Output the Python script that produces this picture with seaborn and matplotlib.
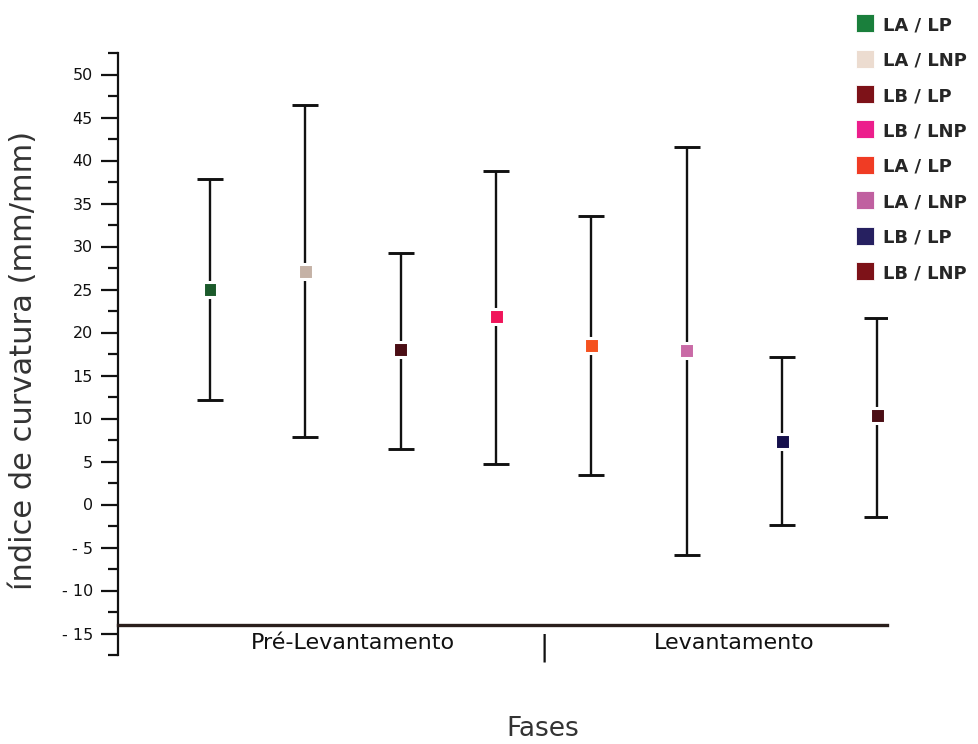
import matplotlib
matplotlib.use("Agg")
import matplotlib.pyplot as plt
import seaborn as sns
import numpy as np
import pandas as pd
from matplotlib.lines import Line2D
from matplotlib.ticker import FixedLocator, MultipleLocator

# ---- data ----
groups = ["LA / LP", "LA / LNP", "LB / LP", "LB / LNP",
          "LA / LP", "LA / LNP", "LB / LP", "LB / LNP"]
phases = ["Pré-Levantamento"] * 4 + ["Levantamento"] * 4
means = [25.0, 27.1, 18.0, 21.9, 18.5, 17.9, 7.3, 10.3]
upper = [37.8, 46.5, 29.3, 38.8, 33.5, 41.6, 17.2, 21.7]
lower = [12.2, 7.8, 6.5, 4.7, 3.4, -5.9, -2.4, -1.4]
ytick_values = [-15, -10, -5, 0, 5, 10, 15, 20, 25, 30, 35, 40, 45, 50]
ytick_labels = ["- 15", "- 10", "- 5", "0", "5", "10", "15", "20",
                "25", "30", "35", "40", "45", "50"]
phase_labels = ["Pré-Levantamento", "|", "Levantamento"]

marker_colors = ["#1b5a2b", "#c5b2a6", "#4b0e15", "#f0145a",
                 "#f5521f", "#c96aa6", "#15104c", "#4b0e15"]
legend_colors = ["#1a7f3c", "#ecdcd0", "#7d1218", "#ec1e8c",
                 "#f03c24", "#c060a0", "#262060", "#7d1218"]

df = pd.DataFrame({"pos": np.arange(len(groups)), "group_id": [str(i) for i in range(len(groups))],
                   "label": groups, "phase": phases, "mean": means,
                   "lo": lower, "hi": upper})

sns.set_theme(style="white")
plt.rcParams["font.family"] = ["DejaVu Sans"]

fig = plt.figure(figsize=(9.79, 7.44), dpi=100)
W, H = 979, 744
ax = fig.add_axes([118 / W, 1 - 655 / H, (887 - 118) / W, (655 - 53) / H])

# error bars
yerr = np.vstack([df["mean"] - df["lo"], df["hi"] - df["mean"]])
ax.errorbar(df["pos"], df["mean"], yerr=yerr, fmt="none", ecolor="#111111",
            elinewidth=1.7, capsize=9.5, capthick=2.1, zorder=2)

# markers
sns.scatterplot(data=df, x="pos", y="mean", hue="group_id",
                palette=marker_colors, marker="s", s=115,
                edgecolor="white", linewidth=2.2, legend=False,
                zorder=3, ax=ax)

ax.set_xlim(-0.965, 7.1)
ax.set_ylim(-17.5, 52.5)

# y axis
ax.yaxis.set_major_locator(FixedLocator(ytick_values))
ax.set_yticklabels(ytick_labels, fontsize=11.5, color="#111111")
ax.yaxis.set_minor_locator(MultipleLocator(2.5))
ax.tick_params(axis="y", which="major", left=True, length=12, width=1.6,
               color="#111111", pad=6)
ax.tick_params(axis="y", which="minor", left=True, length=7, width=1.6,
               color="#111111")

# x axis at -14
ax.spines["bottom"].set_position(("data", -14))
ax.spines["bottom"].set_color("#2a1f1c")
ax.spines["bottom"].set_linewidth(2.4)
ax.spines["left"].set_color("#111111")
ax.spines["left"].set_linewidth(1.6)
ax.spines["top"].set_visible(False)
ax.spines["right"].set_visible(False)

ax.set_xticks([1.5, 3.5, 5.5])
ax.set_xticklabels(phase_labels, fontsize=16, color="#111111")
ax.tick_params(axis="x", length=0, pad=6)
xt = ax.get_xticklabels()
xt[1].set_fontsize(20)

ax.set_xlabel("")
ax.set_ylabel("")
fig.text(543 / W, 1 - 729 / H, "Fases", ha="center", va="center",
         fontsize=19, color="#333333")
fig.text(24 / W, 1 - 360 / H, "índice de curvatura (mm/mm)", rotation=90,
         ha="center", va="center", fontsize=22, color="#333333")

# legend
handles = [Line2D([0], [0], marker="s", linestyle="none", markersize=13.5,
                  markerfacecolor=c, markeredgecolor="white",
                  markeredgewidth=0.6, label=l)
           for c, l in zip(legend_colors, groups)]
leg = fig.legend(handles=handles, loc="upper left",
                 bbox_to_anchor=(856 / W, 1 - 16 / H), frameon=False,
                 prop={"weight": "bold", "size": 13}, handlelength=1.0,
                 handleheight=1.0, handletextpad=0.5, labelspacing=0.95,
                 borderpad=0, borderaxespad=0)

fig.savefig("out.png", dpi=100, facecolor="white")
